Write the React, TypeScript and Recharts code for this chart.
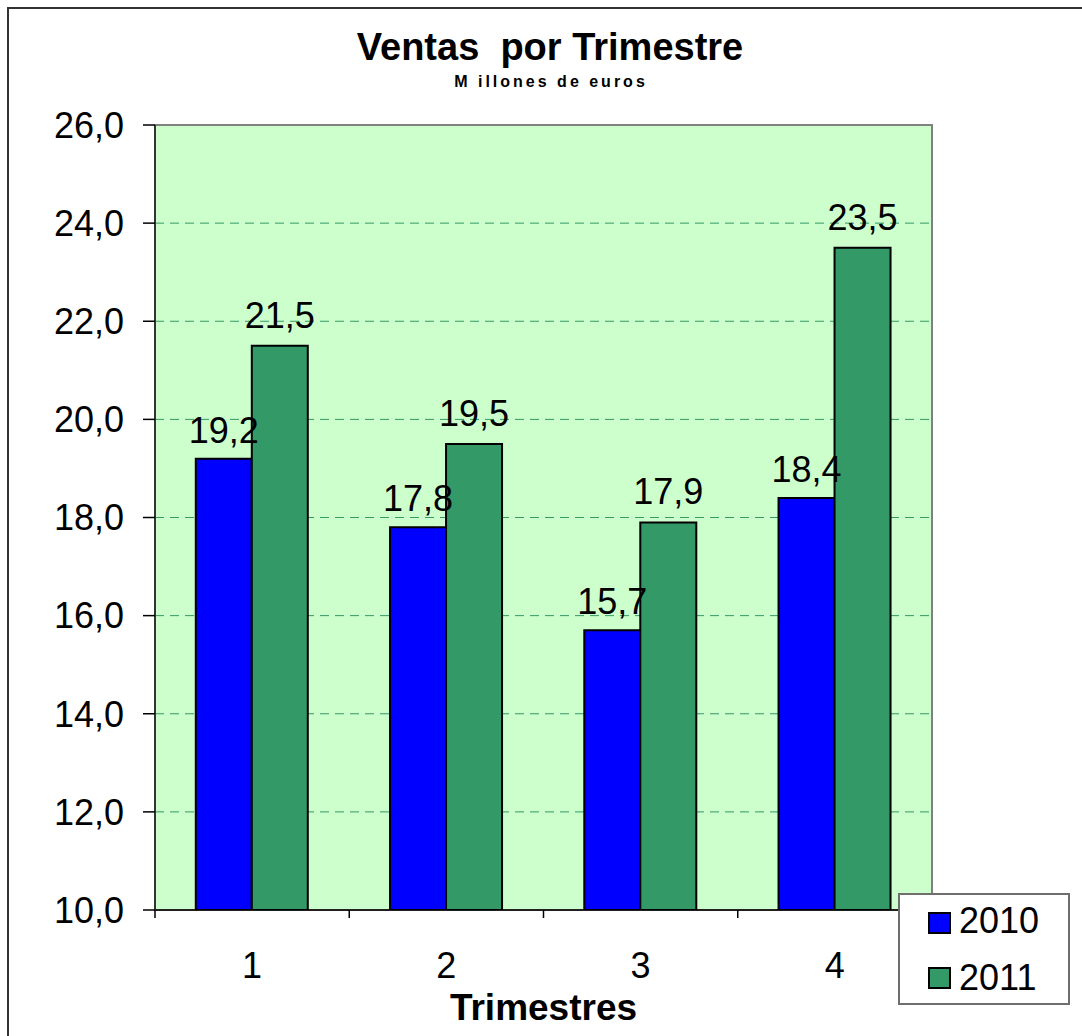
import React from 'react';
import { BarChart, Bar, XAxis, YAxis, CartesianGrid, ReferenceArea, LabelList, Legend } from 'recharts';

const quarters = ['1', '2', '3', '4'];
const sales2010 = [19.2, 17.8, 15.7, 18.4];
const sales2011 = [21.5, 19.5, 17.9, 23.5];
const yTicks = [10, 12, 14, 16, 18, 20, 22, 24, 26];
const seriesNames = ['2010', '2011'];
const seriesColors = ['#0000FF', '#339966'];

const data = quarters.map((q, i) => ({ q, s2010: sales2010[i], s2011: sales2011[i] }));

const W = 1082;
const H = 1036;
const M_LEFT = 155;
const M_RIGHT = 150;
const M_TOP = 125;
const X_H = 126;
const BAND = (W - M_LEFT - M_RIGHT) / quarters.length;
const FONT = '"Liberation Sans", Arial, Helvetica, sans-serif';

const fmt = (v: any) => Number(v).toFixed(1).replace('.', ',');

const XTick = (props: any) => {
  const { x, y, payload, index } = props;
  const half = BAND / 2;
  return (
    <g>
      <line x1={x - half} y1={y} x2={x - half} y2={y + 8} stroke="#000" strokeWidth={1.5} />
      {index === quarters.length - 1 && (
        <line x1={x + half} y1={y} x2={x + half} y2={y + 8} stroke="#000" strokeWidth={1.5} />
      )}
      <text x={x} y={y + 68} textAnchor="middle" fontSize={36} fill="#000" fontFamily={FONT}>
        {payload.value}
      </text>
    </g>
  );
};

const renderLegend = (props: any) => {
  const payload = props.payload || [];
  return (
    <div
      style={{
        position: 'relative',
        width: 172,
        height: 112,
        boxSizing: 'border-box',
        border: '2px solid #6e6e6e',
        background: '#fff',
        fontFamily: FONT,
      }}
    >
      {payload.map((p: any, i: number) => (
        <div key={i}>
          <div
            style={{
              position: 'absolute',
              left: 28,
              top: 17 + i * 55,
              width: 23,
              height: 22,
              boxSizing: 'border-box',
              border: '2px solid #000',
              background: p.color,
            }}
          />
          <div
            style={{
              position: 'absolute',
              left: 59,
              top: 8 + i * 57,
              fontSize: 36,
              lineHeight: '36px',
              color: '#000',
              whiteSpace: 'nowrap',
            }}
          >
            {p.value}
          </div>
        </div>
      ))}
    </div>
  );
};

export default function App() {
  return (
    <div
      style={{
        position: 'absolute',
        left: 0,
        top: 0,
        width: W,
        height: H,
        overflow: 'hidden',
        background: '#fff',
        fontFamily: FONT,
      }}
    >
      <div
        style={{
          position: 'absolute',
          left: 7,
          top: 7,
          width: 1300,
          height: 1300,
          borderLeft: '2px solid #333',
          borderTop: '2px solid #333',
        }}
      />
      <div
        style={{
          position: 'absolute',
          left: 350,
          width: 400,
          top: 28,
          textAlign: 'center',
          fontSize: 38,
          lineHeight: '38px',
          fontWeight: 'bold',
          whiteSpace: 'pre',
          color: '#000',
        }}
      >
        {'Ventas  por Trimestre'}
      </div>
      <div
        style={{
          position: 'absolute',
          left: 351,
          width: 400,
          top: 74,
          textAlign: 'center',
          fontSize: 16,
          lineHeight: '16px',
          fontWeight: 'bold',
          letterSpacing: '3px',
          whiteSpace: 'pre',
          color: '#000',
        }}
      >
        {'M illones de euros'}
      </div>
      <div style={{ position: 'absolute', left: 0, top: 0 }}>
        <BarChart
          width={W}
          height={H}
          data={data}
          margin={{ top: M_TOP, right: M_RIGHT, left: 0, bottom: 0 }}
          barCategoryGap="21%"
          barGap={0}
        >
          <CartesianGrid
            vertical={false}
            fill="#CCFFCC"
            stroke="#339966"
            strokeDasharray="9 6"
            strokeWidth={1}
          />
          <ReferenceArea y1={10} y2={26} fill="none" fillOpacity={0} stroke="#808080" strokeWidth={2} />
          <XAxis
            dataKey="q"
            height={X_H}
            tickLine={false}
            tickSize={0}
            tickMargin={0}
            axisLine={{ stroke: '#000', strokeWidth: 1.5 }}
            tick={<XTick />}
            interval={0}
            label={{
              value: 'Trimestres',
              position: 'insideBottom',
              offset: 16,
              fontSize: 37,
              fontWeight: 'bold',
              fill: '#000',
            }}
          />
          <YAxis
            type="number"
            domain={[10, 26]}
            ticks={yTicks}
            interval={0}
            allowDataOverflow
            width={M_LEFT}
            tickFormatter={fmt}
            tickSize={12}
            tickMargin={19}
            tick={{ fontSize: 36, fill: '#000' }}
            tickLine={{ stroke: '#000', strokeWidth: 1.5 }}
            axisLine={{ stroke: '#333', strokeWidth: 2 }}
          />
          <Legend
            layout="vertical"
            align="center"
            verticalAlign="middle"
            content={renderLegend}
            wrapperStyle={{ position: 'absolute', left: 898, top: 893, width: 172, height: 112 }}
          />
          <Bar dataKey="s2010" name={seriesNames[0]} fill={seriesColors[0]} stroke="#000" strokeWidth={2} isAnimationActive={false}>
            <LabelList dataKey="s2010" position="top" offset={16} formatter={fmt} fontSize={36} fill="#000" />
          </Bar>
          <Bar dataKey="s2011" name={seriesNames[1]} fill={seriesColors[1]} stroke="#000" strokeWidth={2} isAnimationActive={false}>
            <LabelList dataKey="s2011" position="top" offset={18} formatter={fmt} fontSize={36} fill="#000" />
          </Bar>
        </BarChart>
      </div>
    </div>
  );
}
